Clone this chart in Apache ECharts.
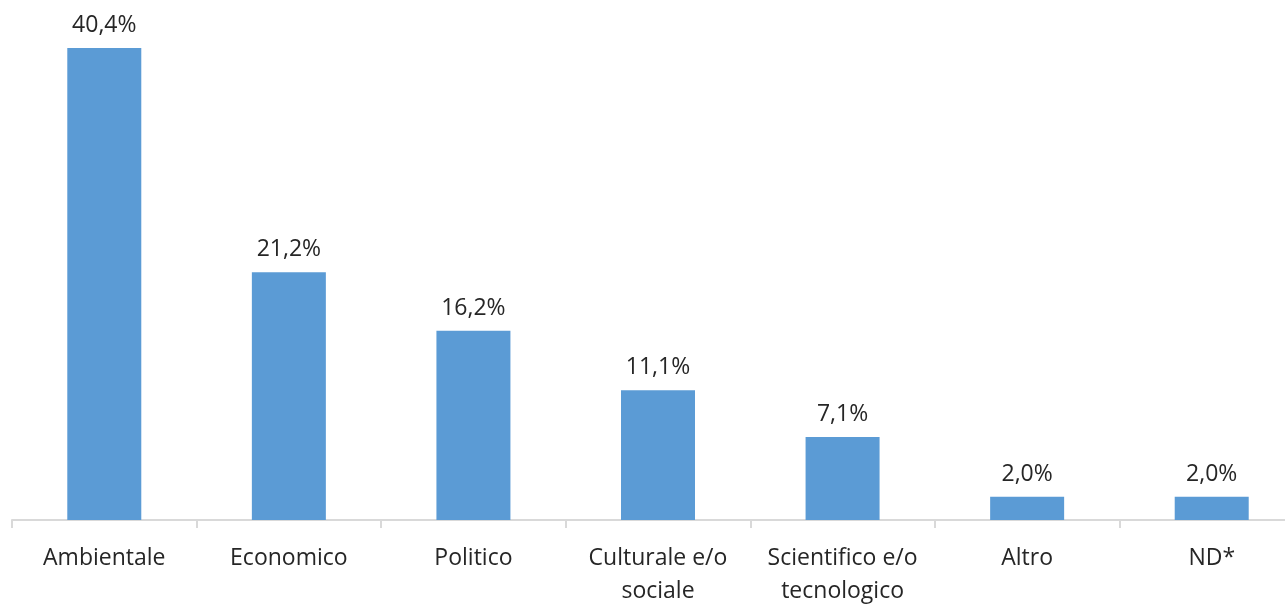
<!DOCTYPE html>
<html>
<head>
<meta charset="utf-8">
<script src="https://cdn.jsdelivr.net/npm/echarts@6/dist/echarts.min.js"></script>
<style>
  html, body { margin: 0; padding: 0; background: #fff; overflow: hidden; }
  #wrap { position: relative; width: 1285px; height: 604px; overflow: hidden; }
  /* the axis runs past the right edge of the picture, so the canvas is wider than the frame */
  #chart { position: absolute; left: 0; top: 0; width: 1304px; height: 604px; }
</style>
</head>
<body>
<div id="wrap"><div id="chart"></div></div>
<script>
const categories = ['Ambientale', 'Economico', 'Politico', 'Culturale e/o\nsociale', 'Scientifico e/o\ntecnologico', 'Altro', 'ND*'];
const values = [40.4, 21.2, 16.2, 11.1, 7.1, 2.0, 2.0];

const chart = echarts.init(document.getElementById('chart'));

const option = {
    animation: false,
    grid: {
        left: 12,
        right: 0,
        top: 48,
        bottom: 84,
        outerBoundsMode: 'none'
    },
    xAxis: {
        type: 'category',
        data: categories,
        axisLine: { lineStyle: { color: '#d9d9d9', width: 2 } },
        axisTick: { show: true, length: 8, lineStyle: { color: '#d9d9d9', width: 2 } },
        axisLabel: {
            color: '#262626',
            fontFamily: 'Open Sans',
            fontSize: 23,
            lineHeight: 33,
            margin: 22,
            interval: 0
        }
    },
    yAxis: {
        type: 'value',
        min: 0,
        max: 40.4,
        show: false
    },
    series: [
        {
            type: 'bar',
            data: values,
            barWidth: 74,
            itemStyle: { color: '#5B9BD5' },
            label: {
                show: true,
                position: 'top',
                distance: 11,
                color: '#262626',
                fontFamily: 'Open Sans',
                fontSize: 23,
                formatter: p => p.value.toFixed(1).replace('.', ',') + '%'
            }
        }
    ]
};

chart.setOption(option);
</script>
</body>
</html>
